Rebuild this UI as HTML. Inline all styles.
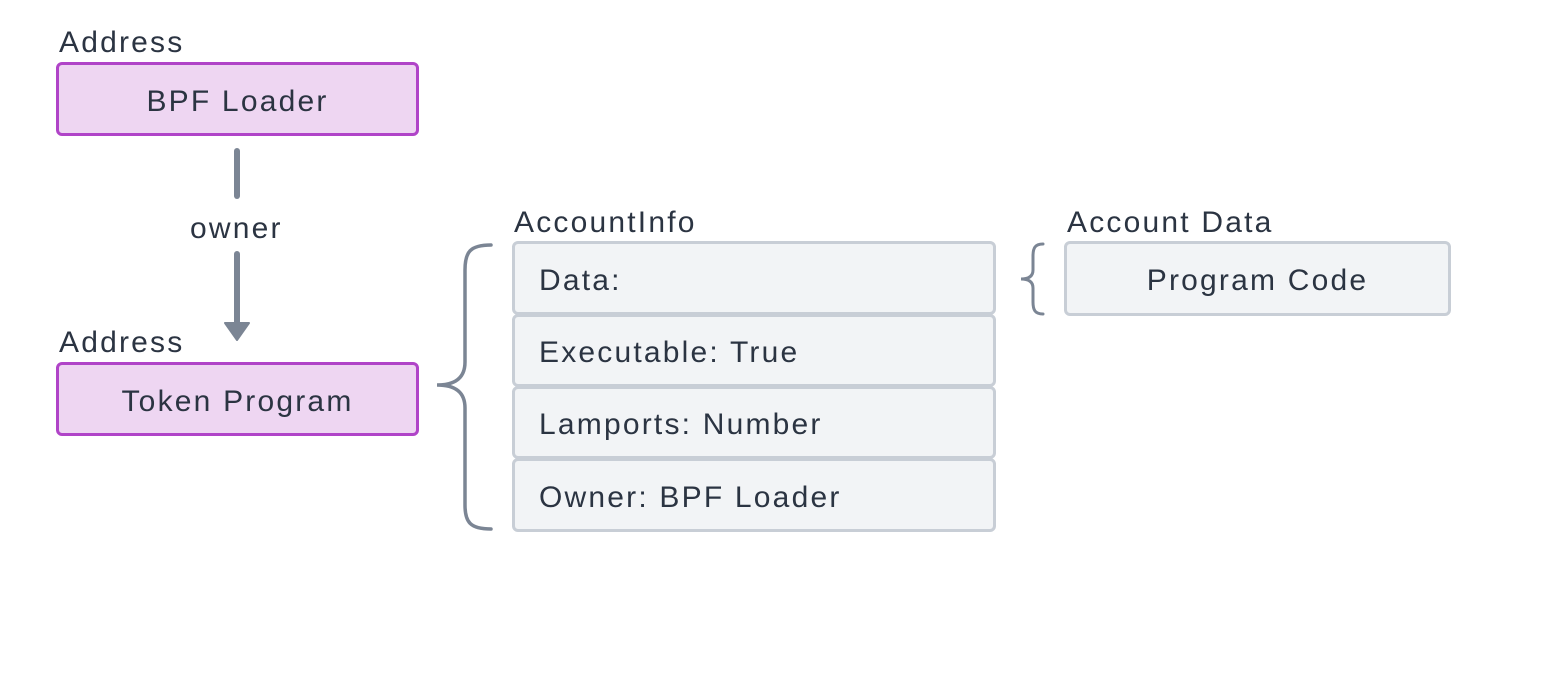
<!DOCTYPE html>
<html><head><style>
body{margin:0;width:1558px;height:674px;background:#fff;position:relative;overflow:hidden;font-family:"Liberation Sans",sans-serif;color:#2b3442}
.l{position:absolute;font-size:30px;line-height:30px;letter-spacing:2.2px}
.b{position:absolute;box-sizing:border-box;border-radius:6px;font-size:30px;letter-spacing:2.2px;display:flex;align-items:center;padding-top:5px}
.p{background:#eed6f2;border:3px solid #b044c8;justify-content:center}
.g{background:#f2f4f6;border:3px solid #c8ced6;padding-left:24px}
</style></head><body>
<div class="l" style="left:59px;top:28px">Address</div>
<div class="b p" style="left:56px;top:62px;width:363px;height:74px">BPF Loader</div>
<div class="l" style="left:190px;top:214px">owner</div>
<div class="l" style="left:59px;top:328px">Address</div>
<div class="b p" style="left:56px;top:362px;width:363px;height:74px">Token Program</div>
<div class="l" style="left:514px;top:208px">AccountInfo</div>
<div class="b g" style="left:512px;top:241px;width:484px;height:74px">Data:</div>
<div class="b g" style="left:512px;top:314px;width:484px;height:73px">Executable: True</div>
<div class="b g" style="left:512px;top:386px;width:484px;height:73px">Lamports: Number</div>
<div class="b g" style="left:512px;top:458px;width:484px;height:74px">Owner: BPF Loader</div>
<div class="l" style="left:1067px;top:208px">Account Data</div>
<div class="b g" style="left:1064px;top:241px;width:387px;height:75px;justify-content:center;padding-left:0">Program Code</div>
<svg style="position:absolute;left:0;top:0" width="1558" height="674">
<g stroke="#7b8594" stroke-width="6" stroke-linecap="round" fill="none">
<line x1="237" y1="151" x2="237" y2="196"/>
<line x1="237" y1="254" x2="237" y2="325"/>
<path d="M491 245 C470 245 465 252 465 270 L465 362 C465 378 455 385 437 385 C455 385 465 392 465 408 L465 505 C465 522 470 529 491 529" stroke-width="3.5"/>
<path d="M1043 244 C1035 244 1033 248 1033 256 L1033 270 C1033 276 1029 279 1021 279 C1029 279 1033 282 1033 288 L1033 302 C1033 310 1035 314 1043 314" stroke-width="3"/>
</g>
<path d="M225 323 L249 323 L237 340 Z" fill="#7b8594" stroke="#7b8594" stroke-width="2" stroke-linejoin="round"/>
</svg>
</body></html>
